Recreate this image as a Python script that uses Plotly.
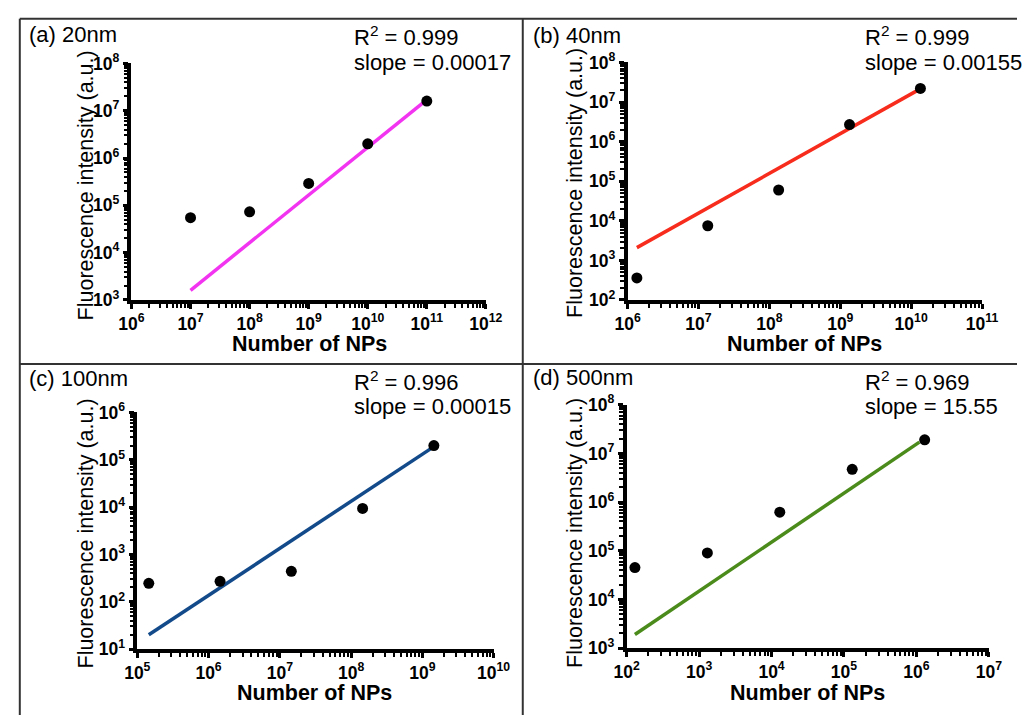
import plotly.graph_objects as go

W, H = 1034, 725

# ---------------- data ----------------
panel_labels = ["(a) 20nm", "(b) 40nm", "(c) 100nm", "(d) 500nm"]
r2_texts = ["0.999", "0.999", "0.996", "0.969"]
slope_texts = ["0.00017", "0.00155", "0.00015", "15.55"]
line_colors = ["#F233F0", "#F82C1C", "#124A8A", "#4B8B1B"]

a_x = [1e7, 1e8, 1e9, 1e10, 1e11]
a_y = [5.5e4, 7.3e4, 2.9e5, 2.0e6, 1.6e7]
a_fit_x = [1e7, 8.5e10]
a_fit_y = [1.6e3, 1.45e7]

b_x = [1.35e6, 1.35e7, 1.35e8, 1.35e9, 1.35e10]
b_y = [3.6e2, 7.5e3, 6.0e4, 2.7e6, 2.2e7]
b_fit_x = [1.35e6, 1.25e10]
b_fit_y = [2.1e3, 2.0e7]

c_x = [1.45e5, 1.45e6, 1.45e7, 1.45e8, 1.45e9]
c_y = [245, 270, 440, 9.4e3, 2.0e5]
c_fit_x = [1.45e5, 1.3e9]
c_fit_y = [20, 1.7e5]

d_x = [1.3e2, 1.3e3, 1.3e4, 1.3e5, 1.3e6]
d_y = [4.5e4, 9.0e4, 6.2e5, 4.7e6, 1.9e7]
d_fit_x = [1.3e2, 1.1e6]
d_fit_y = [1.9e3, 1.7e7]

x_decades = [(6, 12), (6, 11), (5, 10), (2, 7)]
y_decades = [(3, 8), (2, 8), (1, 6), (3, 8)]

xs = [a_x, b_x, c_x, d_x]
ys = [a_y, b_y, c_y, d_y]
fxs = [a_fit_x, b_fit_x, c_fit_x, d_fit_x]
fys = [a_fit_y, b_fit_y, c_fit_y, d_fit_y]

# ---------------- layout geometry (pixels) ----------------
# plot area: left, right, top, bottom
boxes = [(122, 487, 53, 297), (633, 998, 52, 297), (128, 495, 413, 657), (632, 1005, 405, 656)]
label_pos = [(14, 23), (533, 24), (14, 378), (533, 377)]
r2_pos = [(349, 25, 52), (875, 25, 52), (349, 381, 407), (875, 381, 407)]
xtitle_pos = [(305, 342), (815, 342), (311, 702), (818, 702)]
ytitle_pos = [(75, 179), (578, 176), (75, 538), (578, 537)]

FONT = "Liberation Sans, Arial, sans-serif"


def fx(p):
    return p / W


def fy(p):
    return 1 - p / H


fig = go.Figure()
annotations = []
layout_axes = {}

for i in range(4):
    sfx = "" if i == 0 else str(i + 1)
    xa, ya = "x" + sfx, "y" + sfx
    col = line_colors[i]
    fig.add_trace(go.Scatter(x=fxs[i], y=fys[i], mode="lines", xaxis=xa, yaxis=ya,
                             line=dict(color=col, width=3.5), showlegend=False, hoverinfo="skip"))
    fig.add_trace(go.Scatter(x=xs[i], y=ys[i], mode="markers", xaxis=xa, yaxis=ya,
                             marker=dict(color="black", size=11), showlegend=False, cliponaxis=False))

    l, r, t, b = boxes[i]
    x0, x1 = x_decades[i]
    y0, y1 = y_decades[i]
    xmaj = [10 ** k for k in range(x0, x1 + 1)]
    ymaj = [10 ** k for k in range(y0, y1 + 1)]
    xmin = [m * 10 ** k for k in range(x0, x1) for m in range(2, 10)]
    ymin = [m * 10 ** k for k in range(y0, y1) for m in range(2, 10)]
    common = dict(type="log", showline=True, linewidth=3.5, linecolor="black",
                  ticks="outside", ticklen=5, tickwidth=2.5, tickcolor="black",
                  showgrid=False, zeroline=False, mirror=False,
                  tickfont=dict(family=FONT, size=17.5, color="black", weight="bold"))
    layout_axes["xaxis" + sfx] = dict(
        common, domain=[fx(l), fx(r)], anchor=ya, range=[x0, x1],
        tickmode="array", tickvals=xmaj, ticktext=[f"10<sup>{k}</sup>" for k in range(x0, x1 + 1)],
        minor=dict(ticks="outside", ticklen=4, tickwidth=2, tickcolor="black", tickvals=xmin, showgrid=False))
    layout_axes["yaxis" + sfx] = dict(
        common, domain=[fy(b), fy(t)], anchor=xa, range=[y0, y1],
        tickmode="array", tickvals=ymaj, ticktext=[f"10<sup>{k}</sup>" for k in range(y0, y1 + 1)],
        minor=dict(ticks="outside", ticklen=4, tickwidth=2, tickcolor="black", tickvals=ymin, showgrid=False))

    lx, ly = label_pos[i]
    annotations.append(dict(text=panel_labels[i], x=fx(lx), y=fy(ly), xref="paper", yref="paper",
                            xanchor="left", yanchor="middle", showarrow=False,
                            font=dict(family=FONT, size=22, color="black")))
    rx, ry1, ry2 = r2_pos[i]
    annotations.append(dict(text=f"R<sup>2</sup> = {r2_texts[i]}", x=fx(rx), y=fy(ry1), xref="paper",
                            yref="paper", xanchor="left", yanchor="middle", showarrow=False,
                            font=dict(family=FONT, size=22, color="black")))
    annotations.append(dict(text=f"slope = {slope_texts[i]}", x=fx(rx), y=fy(ry2), xref="paper",
                            yref="paper", xanchor="left", yanchor="middle", showarrow=False,
                            font=dict(family=FONT, size=22, color="black")))
    tx, ty = xtitle_pos[i]
    annotations.append(dict(text="<b>Number of NPs</b>", x=fx(tx), y=fy(ty), xref="paper", yref="paper",
                            xanchor="center", yanchor="middle", showarrow=False,
                            font=dict(family=FONT, size=21.5, color="black")))
    vx, vy = ytitle_pos[i]
    annotations.append(dict(text="Fluorescence intensity (a.u.)", x=fx(vx), y=fy(vy), xref="paper",
                            yref="paper", xanchor="center", yanchor="middle", showarrow=False, textangle=-90,
                            font=dict(family=FONT, size=21.5, color="black")))

border = dict(color="#333333", width=2)
shapes = [
    dict(type="line", xref="paper", yref="paper", x0=fx(7), x1=1, y0=fy(7), y1=fy(7), line=border),
    dict(type="line", xref="paper", yref="paper", x0=fx(7), x1=fx(7), y0=fy(7), y1=0, line=border),
    dict(type="line", xref="paper", yref="paper", x0=fx(525), x1=fx(525), y0=fy(7), y1=0, line=border),
    dict(type="line", xref="paper", yref="paper", x0=fx(7), x1=1, y0=fy(363), y1=fy(363), line=border),
]

fig.update_layout(width=W, height=H, margin=dict(l=0, r=0, t=0, b=0),
                  paper_bgcolor="white", plot_bgcolor="white",
                  annotations=annotations, shapes=shapes, showlegend=False, **layout_axes)

fig.write_html("out.html")
